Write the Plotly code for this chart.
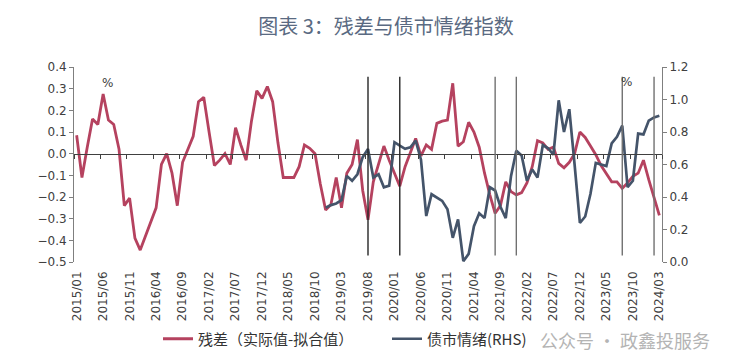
import pandas as pd
import plotly.graph_objects as go

# ---- data ----
months = [d.strftime("%Y/%m") for d in pd.date_range("2015-01-01", "2024-03-01", freq="MS")]

residual = [
    0.085, -0.11, 0.03, 0.16, 0.135, 0.275, 0.155, 0.135, 0.02, -0.24,
    -0.205, -0.39, -0.445, -0.38, -0.315, -0.25, -0.05, 0.0, -0.09, -0.24,
    -0.04, 0.02, 0.08, 0.24, 0.26, 0.1, -0.055, -0.03, 0.0, -0.05,
    0.12, 0.04, -0.03, 0.15, 0.29, 0.255, 0.31, 0.24, 0.05, -0.11,
    -0.11, -0.11, -0.06, 0.04, 0.025, 0.0, -0.14, -0.26, -0.235, -0.11,
    -0.25, -0.09, -0.05, 0.065, -0.17, -0.305, -0.13, -0.05, 0.035, -0.03,
    -0.09, -0.15, -0.06, 0.01, 0.07, -0.01, 0.04, 0.02, 0.14, 0.15,
    0.155, 0.325, 0.035, 0.055, 0.145, 0.1, 0.03, -0.09, -0.19, -0.275,
    -0.24, -0.13, -0.175, -0.19, -0.18, -0.135, -0.06, 0.06, 0.05, 0.02,
    0.03, -0.045, -0.065, -0.04, 0.0, 0.1, 0.075, 0.035, -0.005, -0.055,
    -0.09, -0.13, -0.13, -0.16, -0.135, -0.105, -0.09, -0.03, -0.12, -0.2,
    -0.285,
]

sentiment = [None] * 47 + [
    0.334, 0.35, 0.36, 0.38, 0.53, 0.50, 0.54, 0.645, 0.695, 0.52,
    0.54, 0.46, 0.47, 0.737, 0.716, 0.696, 0.706, 0.747, 0.63, 0.283,
    0.417, 0.396, 0.376, 0.324, 0.149, 0.262, 0.005, 0.05, 0.22, 0.30,
    0.27, 0.46, 0.44, 0.34, 0.27, 0.53, 0.685, 0.655, 0.50, 0.57,
    0.52, 0.72, 0.70, 0.66, 0.995, 0.80, 0.94, 0.6, 0.24, 0.28,
    0.42, 0.61, 0.60, 0.59, 0.73, 0.77, 0.84, 0.46, 0.50, 0.79,
    0.785, 0.87, 0.89, 0.90,
]

tick_labels = months[::5]
marker_months = ["2019/08", "2020/02", "2021/08", "2021/12", "2023/08", "2024/02"]
marker_colors = ["#262626", "#262626", "#707070", "#707070", "#707070", "#707070"]

title_text = "图表 3：残差与债市情绪指数"
name_residual = "残差（实际值-拟合值）"
name_sentiment = "债市情绪(RHS)"
watermark = "公众号 · 政鑫投服务"

# ---- figure ----
RED = "#b5425f"
NAVY = "#44546a"
TICKFONT = dict(family="DejaVu Sans", size=12, color="#404040")
CJK = "Noto Sans CJK SC"

OFF = 8                     # page body margin
W, H = 736 - OFF, 355 - OFF
PL, PR, PT, PB = 74, 662, 67, 262   # plot area in page pixels
PW, PH = PR - PL, PB - PT

def px(x):
    return (x - PL) / PW

def py(y):
    return (PB - y) / PH

fig = go.Figure()
fig.add_trace(go.Scatter(
    x=months, y=residual, mode="lines", name=name_residual, showlegend=True,
    line=dict(color=RED, width=2.8), xaxis="x", yaxis="y", legend="legend",
))
fig.add_trace(go.Scatter(
    x=months, y=sentiment, mode="lines", name=name_sentiment, showlegend=True,
    line=dict(color=NAVY, width=2.7), xaxis="x2", yaxis="y2", legend="legend2",
    connectgaps=False,
))

ymin, ymax = -0.5, 0.4
zero_pos = (0 - ymin) / (ymax - ymin)

for m, c in zip(marker_months, marker_colors):
    idx = months.index(m)
    fig.add_shape(type="line", xref="x", yref="y", x0=idx, x1=idx, y0=-0.47, y1=0.355,
                  line=dict(color=c, width=1.4), layer="above")

fig.update_layout(
    width=W, height=H, showlegend=True,
    margin=dict(l=PL - OFF, r=736 - PR, t=PT - OFF, b=355 - PB, autoexpand=False),
    paper_bgcolor="white", plot_bgcolor="white",
    title=dict(text=title_text, x=(386 - OFF) / W, xanchor="center", y=1 - (27 - OFF) / H,
               yanchor="middle", font=dict(family=CJK, size=20, color="#5a6a82"), automargin=False),
    xaxis=dict(
        type="category", categoryorder="array", categoryarray=months,
        range=[-0.5, len(months) - 0.5], automargin=False,
        tickmode="array", tickvals=tick_labels, ticktext=tick_labels,
        tickangle=-90, ticks="", showline=False, showgrid=False, zeroline=False,
        tickfont=TICKFONT, ticklabelstandoff=6,
    ),
    xaxis2=dict(
        type="category", categoryorder="array", categoryarray=months,
        range=[-0.5, len(months) - 0.5], overlaying="x", anchor="free", position=zero_pos,
        side="bottom", showline=True, linecolor="#404040", linewidth=1.3, automargin=False,
        tickmode="array", tickvals=tick_labels, tickson="boundaries",
        ticks="outside", ticklen=4, tickwidth=1, tickcolor="#404040",
        showticklabels=False, showgrid=False, zeroline=False,
    ),
    yaxis=dict(
        range=[ymin, ymax], dtick=0.1, tick0=0, tickformat=".1f", automargin=False,
        showline=True, linecolor="#7f7f7f", linewidth=1,
        ticks="outside", ticklen=4, tickcolor="#7f7f7f",
        showgrid=False, zeroline=False, tickfont=TICKFONT,
    ),
    yaxis2=dict(
        range=[0, 1.2], dtick=0.2, tick0=0, tickformat=".1f", automargin=False,
        overlaying="y", side="right", anchor="x",
        showline=True, linecolor="#7f7f7f", linewidth=1,
        ticks="outside", ticklen=4, tickcolor="#7f7f7f",
        showgrid=False, zeroline=False, tickfont=TICKFONT,
    ),
    legend=dict(
        orientation="h", x=px(158), xanchor="left", y=py(339), yanchor="middle",
        font=dict(family=CJK, size=15, color="#333333"), bgcolor="rgba(0,0,0,0)",
    ),
    legend2=dict(
        orientation="h", x=px(387), xanchor="left", y=py(339), yanchor="middle",
        font=dict(family=CJK, size=15, color="#333333"), bgcolor="rgba(0,0,0,0)",
    ),
    annotations=[
        dict(text="%", xref="paper", yref="paper", x=px(100), y=py(74),
             showarrow=False, font=dict(family="DejaVu Sans", size=12, color="#404040")),
        dict(text="%", xref="paper", yref="paper", x=px(634), y=py(73),
             showarrow=False, font=dict(family="DejaVu Sans", size=12, color="#404040")),
        dict(text=watermark, xref="paper", yref="paper", x=px(538), xanchor="left",
             y=py(340), yanchor="middle", showarrow=False,
             font=dict(family=CJK, size=18, color="#b4b4b4")),
    ],
)

fig.write_html("out.html")
